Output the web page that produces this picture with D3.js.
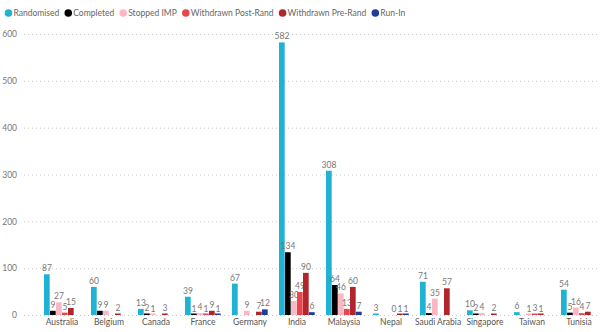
<!DOCTYPE html>
<html><head><meta charset="utf-8">
<script src="https://cdn.jsdelivr.net/npm/d3@7"></script>
<style>body{margin:0;background:#fff;}svg{display:block;font-family:Lato,"Open Sans",sans-serif;}</style>
</head><body><svg id="c" width="600" height="332"></svg>
<script>
const categories = ["Australia","Belgium","Canada","France","Germany","India","Malaysia","Nepal","Saudi Arabia","Singapore","Taiwan","Tunisia"];
const seriesNames = ["Randomised","Completed","Stopped IMP","Withdrawn Post-Rand","Withdrawn Pre-Rand","Run-In"];
const colors = ["#1fb2d3","#000000","#ffb6c3","#e8464f","#b1262c","#1f3d99"];
const randomised      = [87, 60, 13, 39, 67, 582, 308, 3, 71, 10, 6, 54];
const completed       = [9, 9, 2, 1, null, 134, 64, null, 4, 2, null, 5];
const stoppedIMP      = [27, 9, 1, 4, 9, 30, 46, null, 35, 4, 1, 16];
const withdrawnPost   = [5, null, null, 1, null, 49, 13, 0, null, null, 3, 4];
const withdrawnPre    = [15, 2, 3, 9, 7, 90, 60, 1, 57, 2, 1, 7];
const runIn           = [null, null, null, 1, 12, 6, 7, 1, null, null, null, null];
const yTicks = [0,100,200,300,400,500,600];

const seriesValues = [randomised, completed, stoppedIMP, withdrawnPost, withdrawnPre, runIn];
const svg = d3.select("#c");
const y = d3.scaleLinear().domain([0,600]).range([315,34]);
const x0 = d3.scaleBand().domain(categories).range([38.5,602.5]).paddingInner(0.234).paddingOuter(0.117);
const x1 = d3.scaleBand().domain(seriesNames).range([0,x0.bandwidth()]);

const g = svg.append("g");
g.selectAll("line.grid").data(yTicks).join("line")
  .attr("x1",24).attr("x2",600).attr("y1",d=>y(d)+0.5).attr("y2",d=>y(d)+0.5)
  .attr("stroke","#c8c8c8").attr("stroke-width",1).attr("stroke-dasharray","1,3");
const yAxis = d3.axisLeft(y).tickValues(yTicks).tickSize(0).tickPadding(0);
const ya = svg.append("g").attr("transform","translate(17,0)").call(yAxis);
ya.select(".domain").remove();
ya.selectAll("text").attr("fill","#777").attr("font-size","8.5px").attr("font-family","Lato, sans-serif");

const xAxis = d3.axisBottom(x0).tickSize(0).tickPadding(0);
const xa = svg.append("g").attr("transform","translate(0,319)").call(xAxis);
xa.select(".domain").remove();
xa.selectAll("text").attr("fill","#555").attr("font-size","8.5px").attr("font-family","Lato, sans-serif");

const groups = svg.append("g").selectAll("g").data(categories).join("g")
  .attr("transform",d=>`translate(${x0(d)},0)`);
seriesNames.forEach((s,si)=>{
  const vals = seriesValues[si];
  groups.each(function(c,ci){
    const v = vals[ci];
    if(v===null||v===undefined) return;
    const gg = d3.select(this);
    let h = y(0)-y(v);
    if(v>0 && h<1.5) h = 1.5;
    gg.append("rect").attr("x",x1(s)).attr("width",x1.bandwidth()-0.3)
      .attr("y",y(0)-h).attr("height",h)
      .attr("fill",colors[si]);
    gg.append("text").attr("x",x1(s)+x1.bandwidth()/2).attr("y",y(v)-3)
      .attr("text-anchor","middle").attr("fill","#777").attr("font-size","8.5px")
      .text(v);
  });
});

const leg = svg.append("g").attr("transform","translate(0,13)");
let cx = 8.5;
seriesNames.forEach((s,i)=>{
  const it = leg.append("g").attr("transform",`translate(${cx},0)`);
  it.append("circle").attr("r",3.8).attr("fill",colors[i]);
  const t = it.append("text").attr("x",5).attr("y",3).attr("font-size","8.5px").attr("fill","#666").text(s);
  const w = t.node().getComputedTextLength();
  cx += 5 + w + 9;
});
</script></body></html>
